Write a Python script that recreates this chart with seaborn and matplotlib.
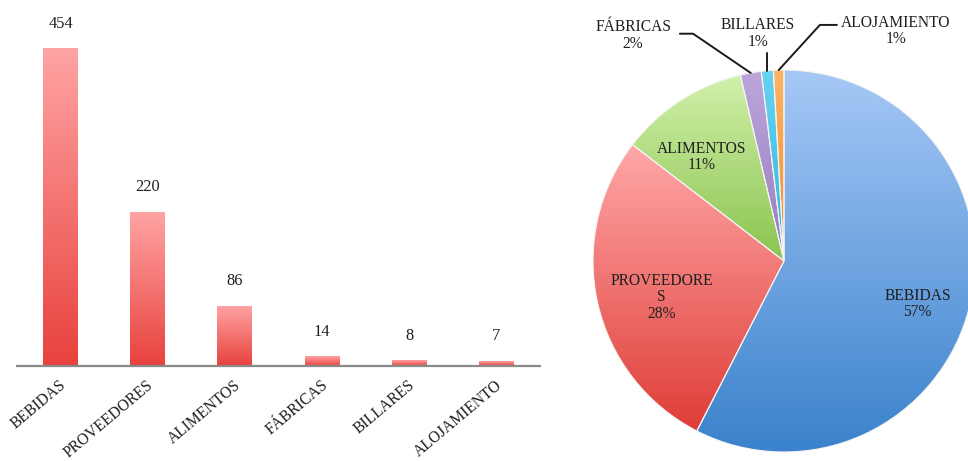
import numpy as np
import pandas as pd
import matplotlib
matplotlib.use("Agg")
import matplotlib.pyplot as plt
import seaborn as sns
from matplotlib.colors import LinearSegmentedColormap
from matplotlib.transforms import ScaledTranslation

# ---- data ----
categories = ["BEBIDAS", "PROVEEDORES", "ALIMENTOS", "FÁBRICAS", "BILLARES", "ALOJAMIENTO"]
counts = [454, 220, 86, 14, 8, 7]
pie_names = ["BEBIDAS", "PROVEEDORE\nS", "ALIMENTOS", "FÁBRICAS", "BILLARES", "ALOJAMIENTO"]
pct_labels = ["57%", "28%", "11%", "2%", "1%", "1%"]

# ---- styles ----
bar_top, bar_bottom = "#ffa4a4", "#e8423d"
pie_grad = [("#a6c8f6", "#3a82cc"),
            ("#ffa8a8", "#df3d37"),
            ("#d0f0aa", "#8bc44f"),
            ("#bca6da", "#987cc0"),
            ("#66d3f2", "#2fb3df"),
            ("#fcb464", "#f28c2c")]
# label centres (pie data units, radius = 1)
label_pos = [(0.70, -0.225), (-0.64, -0.19), (-0.43, 0.545),
             (-0.79, 1.18), (-0.136, 1.19), (0.586, 1.204)]

sns.set_theme(style="white")
plt.rcParams["font.family"] = ["Liberation Serif", "DejaVu Serif"]
txt_color = "#1f1f1f"
fs = 11.2

W, H = 968, 461
fig = plt.figure(figsize=(W / 100, H / 100), dpi=100)

# ---------------- bar chart ----------------
ax1 = fig.add_axes([17 / W, 95 / H, 523 / W, 350 / H])
df = pd.DataFrame({"cat": categories, "n": counts})
sns.barplot(data=df, x="cat", y="n", ax=ax1, width=0.4, color=bar_bottom,
            saturation=1, errorbar=None)
cmap_bar = LinearSegmentedColormap.from_list("bar", [bar_bottom, bar_top])
grad = np.linspace(0, 1, 256).reshape(-1, 1)
for p in ax1.patches:
    x0, y0 = p.get_x(), p.get_y()
    w, h = p.get_width(), p.get_height()
    p.set_facecolor("none")
    p.set_edgecolor("none")
    im = ax1.imshow(grad, cmap=cmap_bar, aspect="auto", origin="lower",
                    extent=[x0, x0 + w, y0, y0 + h], zorder=1)
    im.set_clip_path(p)
ax1.set_xlim(-0.5, len(categories) - 0.5)
ax1.set_ylim(0, 500)
ax1.bar_label(ax1.containers[0], labels=[str(v) for v in counts], padding=12,
              fontsize=11.8, color=txt_color)
ax1.set_xlabel("")
ax1.set_ylabel("")
ax1.set_yticks([])
for s in ["top", "right", "left"]:
    ax1.spines[s].set_visible(False)
ax1.spines["bottom"].set_color("#8a8a8a")
ax1.spines["bottom"].set_linewidth(1.6)
ax1.tick_params(axis="x", length=0, pad=8)
off = ScaledTranslation(-1 / 72, 0, fig.dpi_scale_trans)
for t in ax1.get_xticklabels():
    t.set_rotation(40)
    t.set_ha("right")
    t.set_rotation_mode("anchor")
    t.set_fontsize(fs)
    t.set_color(txt_color)
    t.set_transform(t.get_transform() + off)
ax1.set_facecolor("none")

# ---------------- pie chart ----------------
cx, cy, R = 784, 261, 191
ax2 = fig.add_axes([560 / W, 0, 408 / W, 1])
wedges, _ = ax2.pie(counts, startangle=90, counterclock=False, radius=1,
                    wedgeprops=dict(linewidth=0.8, edgecolor="#f4f4f4"))
for wdg, (ctop, cbot) in zip(wedges, pie_grad):
    ext = wdg.get_path().get_extents()
    wdg.set_facecolor("none")
    cm = LinearSegmentedColormap.from_list("w", [cbot, ctop])
    im = ax2.imshow(grad, cmap=cm, aspect="auto", origin="lower",
                    extent=[ext.x0, ext.x1, ext.y0, ext.y1], zorder=0.5)
    im.set_clip_path(wdg)

for name, pct, (lx, ly) in zip(pie_names, pct_labels, label_pos):
    ax2.text(lx, ly, f"{name}\n{pct}", ha="center", va="center", fontsize=fs,
             color=txt_color, linespacing=1.05, zorder=5)

# leader lines for the small slices, anchored at each wedge's mid angle
def anchor(w):
    a = np.deg2rad((w.theta1 + w.theta2) / 2)
    return np.cos(a), np.sin(a)

ax_, ay_ = anchor(wedges[3])
ax2.plot([-0.545, -0.476, ax_], [1.19, 1.19, ay_], color="#1a1a1a", lw=1.4, zorder=4)
bx_, by_ = anchor(wedges[4])
ax2.plot([bx_, bx_], [1.09, by_], color="#1a1a1a", lw=1.4, zorder=4)
cx_, cy_ = anchor(wedges[5])
ax2.plot([0.277, 0.188, cx_], [1.236, 1.236, cy_], color="#1a1a1a", lw=1.4, zorder=4)

ax2.set_xlim((560 - cx) / R, (968 - cx) / R)
ax2.set_ylim((cy - 461) / R, cy / R)
ax2.set_aspect("auto")
ax2.axis("off")

fig.savefig("out.png", dpi=100, facecolor="white")
